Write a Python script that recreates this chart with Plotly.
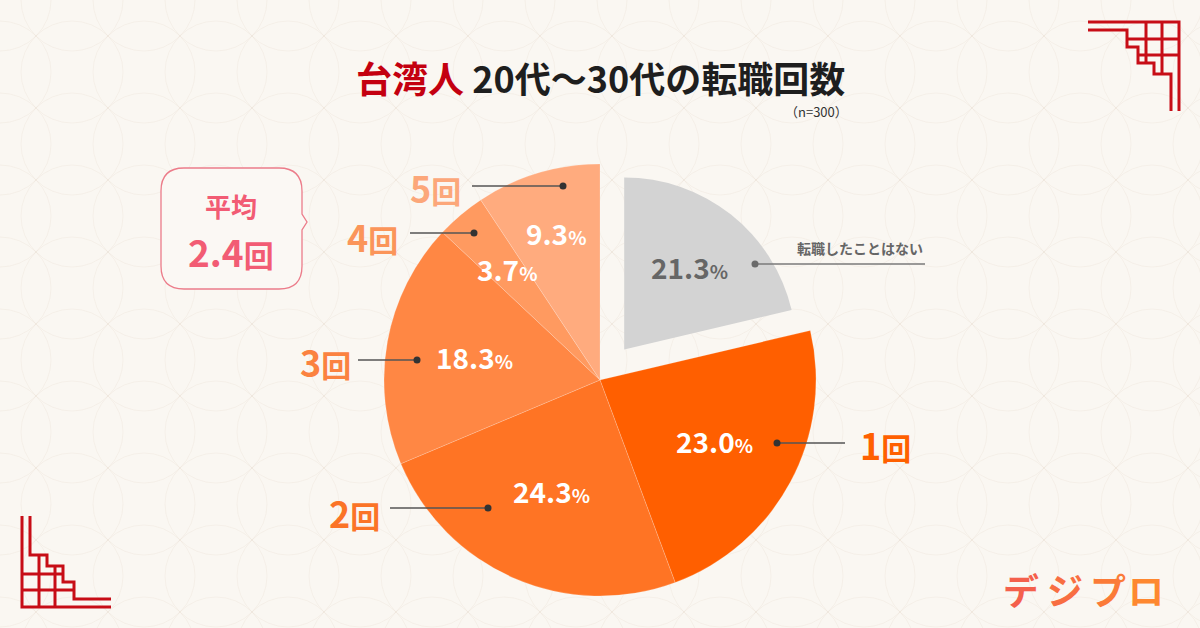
import math
import plotly.graph_objects as go

# ---------------- data ----------------
categories = ["転職したことはない", "1回", "2回", "3回", "4回", "5回"]
shares = [21.3, 23.0, 24.3, 18.3, 3.7, 9.3]
title_red = "台湾人"
title_rest = "20代～30代の転職回数"
sample_note = "（n=300）"
average_label = "平均"
average_value = "2.4"
average_unit = "回"
brand = "デジプロ"

# ---------------- style / layout ----------------
W, H = 1200, 628
BG = "#FAF7F2"
FONT = "Noto Sans CJK JP"
slice_colors = ["#D3D3D3", "#FF5F00", "#FF7424", "#FF8744", "#FF9A60", "#FFAB7E"]
label_colors = ["#666666", "#FF6000", "#FB7427", "#FB8240", "#FB955A", "#FCA77A"]
pct_colors = ["#666666", "#FFFFFF", "#FFFFFF", "#FFFFFF", "#FFFFFF", "#FFFFFF"]
CLEAR = "rgba(0,0,0,0)"
# pie centre and radii (pixels); first category drawn as a smaller, detached slice
CX, CY = 600, 380
R_MAIN = 216
R_DET = 172
DET_SHIFT = 39
pct_radius = [0.61, 0.60, 0.56, 0.59, 0.67, 0.71]
# leader lines: (dot x, dot y, line end x, label x, label y) in pixels
leaders = [
    (755, 264, 925, 925, 260),
    (777, 443, 845, 885, 444),
    (488, 508, 390, 354, 512),
    (417, 360, 358, 325, 361),
    (474, 233, 410, 372, 236),
    (563, 186, 472, 435, 187),
]


def dom(half):
    return dict(x=[(CX - half) / W, (CX + half) / W],
                y=[(H - CY - half) / H, (H - CY + half) / H])


fig = go.Figure()

# main pie: every slice except the detached one
fig.add_trace(go.Pie(
    labels=categories, values=shares, sort=False, direction="clockwise", rotation=0,
    textinfo="none", hoverinfo="label+percent",
    marker=dict(colors=[CLEAR] + slice_colors[1:],
                line=dict(color=["rgba(0,0,0,0)"] + ["rgba(255,255,255,0.18)"] * 5, width=1)),
    domain=dom(R_MAIN), showlegend=False,
))
# detached, smaller slice
det_pull = DET_SHIFT / R_DET
fig.add_trace(go.Pie(
    labels=categories, values=shares, sort=False, direction="clockwise", rotation=0,
    textinfo="none", hoverinfo="label+percent",
    pull=[det_pull, 0, 0, 0, 0, 0],
    marker=dict(colors=[slice_colors[0]] + [CLEAR] * 5, line=dict(width=0)),
    domain=dom(R_DET * (1 + det_pull)), showlegend=False,
))
# invisible cartesian layer used for pixel-based decorations
fig.add_trace(go.Scatter(x=[0], y=[0], mode="markers", marker=dict(opacity=0),
                         showlegend=False, hoverinfo="skip"))

shapes = []
annotations = []

# faint background pattern
pat_color = "rgba(215,200,180,0.16)"
step = 72
for i in range(-1, W // step + 2):
    for j in range(-1, H // step + 2):
        x0, y0 = i * step, j * step
        shapes.append(dict(type="circle", xref="x", yref="y", x0=x0 - 51, x1=x0 + 51,
                           y0=y0 - 51, y1=y0 + 51, line=dict(color=pat_color, width=1),
                           layer="below"))

# percentage labels and leaders
total = sum(shares)
cum = 0.0
for k, v in enumerate(shares):
    a0 = cum / total * 2 * math.pi
    cum += v
    a1 = cum / total * 2 * math.pi
    am = (a0 + a1) / 2
    shift = DET_SHIFT if k == 0 else 0
    rad = R_DET if k == 0 else R_MAIN
    ox = CX + shift * math.sin(am)
    oy = CY - shift * math.cos(am)
    lx = ox + pct_radius[k] * rad * math.sin(am)
    ly = oy - pct_radius[k] * rad * math.cos(am)
    annotations.append(dict(
        x=lx, y=ly, xref="x", yref="y", showarrow=False,
        text=f"{v:.1f}<span style='font-size:19px'>%</span>",
        font=dict(family=FONT, size=28, color=pct_colors[k], weight=700),
        xanchor="center", yanchor="middle"))

    dx, dy, ex, tx, ty = leaders[k]
    shapes.append(dict(type="line", xref="x", yref="y", x0=dx, y0=dy, x1=ex, y1=dy,
                       line=dict(color="#555555" if k else "#7a7a7a", width=1.6), layer="above"))
    shapes.append(dict(type="circle", xref="x", yref="y", x0=dx - 3.5, x1=dx + 3.5,
                       y0=dy - 3.5, y1=dy + 3.5, fillcolor="#333333" if k else "#6a6a6a",
                       line=dict(width=0), layer="above"))
    if k == 0:
        annotations.append(dict(
            x=tx, y=ty, xref="x", yref="y", showarrow=False, text=categories[k],
            font=dict(family=FONT, size=14, color=label_colors[k], weight=700),
            xanchor="right", yanchor="bottom"))
    else:
        num = categories[k][:-1]
        unit = categories[k][-1]
        annotations.append(dict(
            x=tx, y=ty, xref="x", yref="y", showarrow=False,
            text=f"{num}<span style='font-size:30px'>{unit}</span>",
            font=dict(family=FONT, size=36, color=label_colors[k], weight=700),
            xanchor="center", yanchor="middle"))

# title
annotations.append(dict(
    x=600, y=77, xref="x", yref="y", showarrow=False,
    text=f"<span style='color:#C40010'>{title_red}</span> {title_rest}",
    font=dict(family=FONT, size=36, color="#1E1E1E", weight=700),
    xanchor="center", yanchor="middle"))
annotations.append(dict(
    x=850, y=111, xref="x", yref="y", showarrow=False, text=sample_note,
    font=dict(family=FONT, size=13, color="#333333"), xanchor="right", yanchor="middle"))

# average speech bubble
bubble = ("M 184,168 L 279,168 Q 302,168 302,191 L 302,214 L 307,222 L 302,230 "
          "L 302,266 Q 302,289 279,289 L 184,289 Q 161,289 161,266 L 161,191 Q 161,168 184,168 Z")
shapes.append(dict(type="path", xref="x", yref="y", path=bubble, fillcolor="#FBF8F4",
                   line=dict(color="#EC7C8A", width=1.3), layer="above"))
annotations.append(dict(
    x=231, y=205, xref="x", yref="y", showarrow=False, text=average_label,
    font=dict(family=FONT, size=26, color="#F25C74", weight=700),
    xanchor="center", yanchor="middle"))
annotations.append(dict(
    x=231, y=251, xref="x", yref="y", showarrow=False,
    text=f"{average_value}<span style='font-size:30px'>{average_unit}</span>",
    font=dict(family=FONT, size=37, color="#F25C74", weight=700),
    xanchor="center", yanchor="middle"))

# brand logo, one glyph at a time with a warm gradient
brand_colors = ["#F4604C", "#F86E42", "#FB7B38", "#FE8830"]
brand_x = [1021, 1065, 1108, 1146]
for ch, bx, bc in zip(brand, brand_x, brand_colors):
    annotations.append(dict(
        x=bx, y=589, xref="x", yref="y", showarrow=False, text=ch,
        font=dict(family=FONT, size=36, color=bc, weight=700),
        xanchor="center", yanchor="middle"))

# corner ornaments (bottom-left defined as offsets; top-right is its transpose)
RED = "#C70D16"
orn_paths = [
    [(0, 91), (0, 0), (89, 0)],
    [(8, 91), (8, 52), (25, 52), (25, 41), (41, 41), (41, 25), (52, 25), (52, 8), (89, 8)],
    [(0, 17), (52, 17)],
    [(0, 33), (41, 33)],
    [(17, 0), (17, 52)],
    [(33, 0), (33, 41)],
]


def to_bl(p):
    return (22 + p[0], 607 - p[1])


def to_tr(p):
    x, y = to_bl(p)
    return (y + 572, x)


for conv in (to_bl, to_tr):
    for seg in orn_paths:
        pts = [conv(p) for p in seg]
        d = "M " + " L ".join(f"{x:.1f},{y:.1f}" for x, y in pts)
        shapes.append(dict(type="path", xref="x", yref="y", path=d,
                           line=dict(color=RED, width=3), layer="above"))

fig.update_layout(
    width=W, height=H, margin=dict(l=0, r=0, t=0, b=0),
    paper_bgcolor=BG, plot_bgcolor="rgba(0,0,0,0)",
    xaxis=dict(range=[0, W], visible=False, fixedrange=True, domain=[0, 1]),
    yaxis=dict(range=[H, 0], visible=False, fixedrange=True, domain=[0, 1]),
    shapes=shapes, annotations=annotations, showlegend=False,
    font=dict(family=FONT),
)

fig.write_html("out.html", config={"displayModeBar": False},
               post_script="document.body.style.margin='0';document.body.style.overflow='hidden';")
